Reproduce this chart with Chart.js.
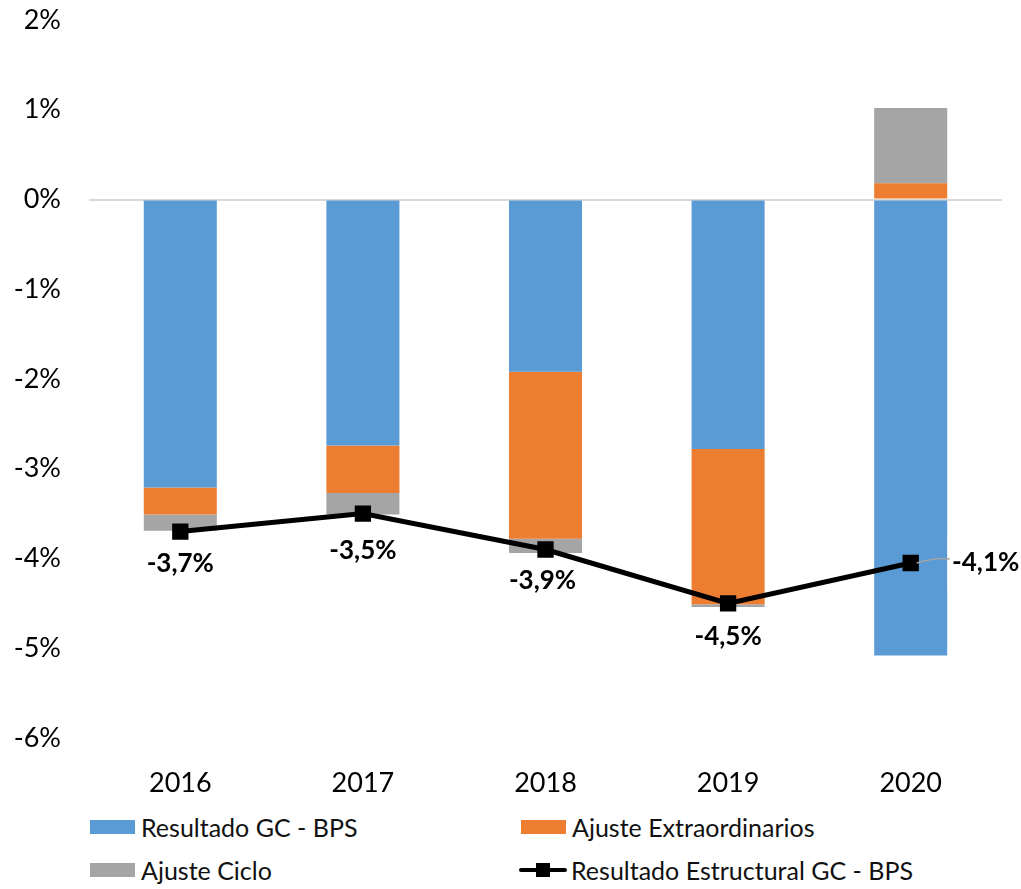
<!DOCTYPE html>
<html>
<head>
<meta charset="utf-8">
<script src="https://cdn.jsdelivr.net/npm/chart.js@4.4.1/dist/chart.umd.min.js"></script>
<style>
  body { margin: 0; background: #fff; font-family: Lato, "Noto Sans", sans-serif; }
  #wrap { position: relative; width: 1021px; height: 889px; }
  .leg { position: absolute; font-size: 25px; color: #111; display: flex; align-items: center; white-space: nowrap; }
  .box { width: 45px; height: 14px; margin-right: 6px; }
  .lmark { position: relative; width: 48px; height: 14px; margin-right: 4px; }
  .lmark::before { content: ""; position: absolute; left: 0; right: 0; top: 5px; height: 4px; background: #000; border-radius: 2px; }
  .lmark::after { content: ""; position: absolute; left: 17px; top: 0; width: 14px; height: 14px; background: #000; }
</style>
</head>
<body>
<div id="wrap">
  <canvas id="myChart" width="1021" height="800"></canvas>
  <div class="leg" style="left:90px; top:812px;"><div class="box" style="background:#5B9BD5"></div>Resultado GC - BPS</div>
  <div class="leg" style="left:521px; top:812px;"><div class="box" style="background:#ED7D31"></div>Ajuste Extraordinarios</div>
  <div class="leg" style="left:90px; top:855px;"><div class="box" style="background:#A5A5A5"></div>Ajuste Ciclo</div>
  <div class="leg" style="left:519px; top:855px;"><div class="lmark"></div>Resultado Estructural GC - BPS</div>
</div>
<script>
  const years = ['2016', '2017', '2018', '2019', '2020'];
  const resultadoGC = [-3.21, -2.74, -1.92, -2.78, -5.08];
  const ajusteExtra = [-0.30, -0.53, -1.86, -1.73, 0.18];
  const ajusteCiclo = [-0.18, -0.24, -0.16, -0.03, 0.84];
  const estructural = [-3.7, -3.5, -3.9, -4.5, -4.05];
  const estructuralLabels = ['-3,7%', '-3,5%', '-3,9%', '-4,5%', '-4,1%'];

  const font = 'Lato, "Noto Sans", sans-serif';

  const pointLabels = {
    id: 'pointLabels',
    afterDatasetsDraw(chart) {
      const meta = chart.getDatasetMeta(3);
      const c = chart.ctx;
      const offs = [[0, 32], [0, 37], [-3, 31], [0, 33], [75, 0]];
      c.save();
      c.font = 'bold 26px ' + font;
      c.textAlign = 'center';
      c.textBaseline = 'middle';
      meta.data.forEach((p, i) => {
        const x = p.x + offs[i][0];
        const y = p.y + offs[i][1];
        if (i === 4) {
          c.fillStyle = '#fff';
          c.fillRect(x - 38, y - 26, 80, 52);
          c.strokeStyle = '#A5A5A5';
          c.lineWidth = 1.5;
          c.beginPath();
          c.moveTo(p.x + 6, p.y);
          c.quadraticCurveTo(p.x + 26, p.y - 6, x - 36, y - 4);
          c.stroke();
        }
        c.fillStyle = '#000';
        c.fillText(estructuralLabels[i], x, y);
      });
      c.restore();
    }
  };

  const ctx = document.getElementById('myChart');
  new Chart(ctx, {
    type: 'bar',
    data: {
      labels: years,
      datasets: [{
        label: 'Resultado GC - BPS',
        data: resultadoGC,
        backgroundColor: '#5B9BD5',
        stack: 'bars',
        order: 1
      }, {
        label: 'Ajuste Extraordinarios',
        data: ajusteExtra,
        backgroundColor: '#ED7D31',
        stack: 'bars',
        order: 1
      }, {
        label: 'Ajuste Ciclo',
        data: ajusteCiclo,
        backgroundColor: '#A5A5A5',
        stack: 'bars',
        order: 1
      }, {
        type: 'line',
        label: 'Resultado Estructural GC - BPS',
        data: estructural,
        borderColor: '#000',
        backgroundColor: '#000',
        borderWidth: 5,
        pointStyle: 'rect',
        pointRadius: 8,
        pointHoverRadius: 8,
        stack: 'line',
        order: 0
      }]
    },
    options: {
      responsive: false,
      animation: false,
      devicePixelRatio: 1,
      layout: { padding: { top: 20, right: 19, left: 0, bottom: 0 } },
      datasets: { bar: { barPercentage: 0.4, categoryPercentage: 1 } },
      plugins: { legend: { display: false }, tooltip: { enabled: false } },
      scales: {
        x: {
          stacked: true,
          grid: { display: false },
          border: { display: false },
          ticks: { color: '#000', font: { family: font, size: 27 }, padding: 21 },
          afterFit(s) { s.height = 62; }
        },
        y: {
          stacked: true,
          min: -6,
          max: 2,
          border: { display: false },
          grid: {
            drawTicks: false,
            lineWidth: 2,
            color: (c) => c.tick && c.tick.value === 0 ? '#D9D9D9' : 'rgba(0,0,0,0)'
          },
          ticks: {
            stepSize: 1,
            color: '#000',
            padding: 28,
            font: { family: font, size: 27 },
            callback: (v) => v + '%'
          },
          afterFit(s) { s.width = 89; s.paddingTop = 0; s.paddingBottom = 0; }
        }
      }
    },
    plugins: [pointLabels]
  });
</script>
</body>
</html>
